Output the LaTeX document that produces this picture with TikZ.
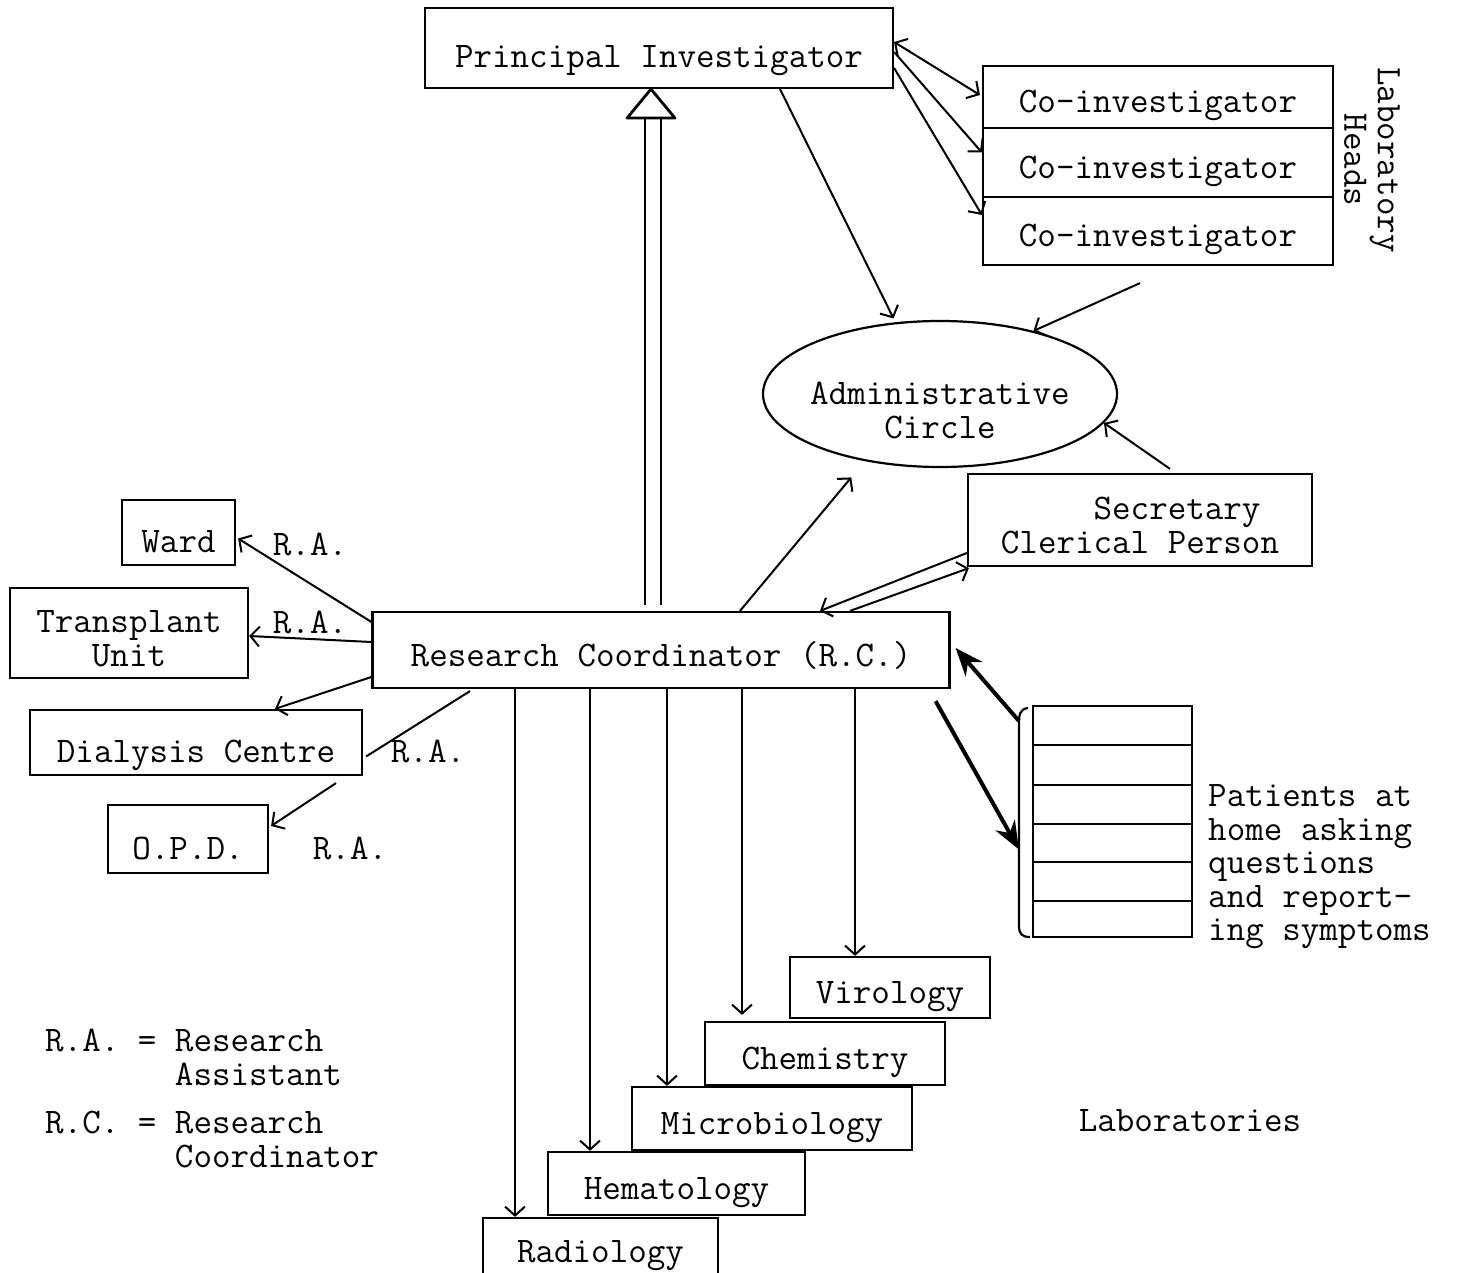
\documentclass[tikz,border=0pt]{standalone}
\usetikzlibrary{arrows.meta,shapes.geometric,calc}
\newcommand\tw{\ttfamily\fontsize{36}{33.5}\selectfont}
\newcommand\mlines[2]{\raisebox{-#1}[\height][\depth]{\begin{tabular}{@{}c@{}}#2\end{tabular}}}
\begin{document}
\begin{tikzpicture}[x=1pt,y=-1pt,
  bxbase/.style={draw, line width=2.2pt, inner sep=0pt, font=\tw},
  bx/.style={bxbase, text height=32pt, text depth=0pt},
  bxl/.style={bxbase, text height=40pt, text depth=0pt},
  lbl/.style={font=\tw, inner sep=0pt},
  ar/.style={line width=2pt, -{Straight Barb[length=9pt,width=20pt]}},
  thk/.style={line width=4pt, -{Stealth[length=28pt,width=22pt]}},
  ln/.style={line width=2pt}]
\useasboundingbox[fill=white] (0,0) rectangle (1460,1273);

% top
\node[bxl, minimum width=468pt, minimum height=80pt] (pi) at (659,48) {Principal Investigator};
\node[bx, minimum width=350pt, minimum height=62pt] (co1) at (1158,97) {Co-investigator};
\node[bx, minimum width=350pt, minimum height=69pt] (co2) at (1158,162.5) {Co-investigator};
\node[bx, minimum width=350pt, minimum height=68pt] (co3) at (1158,231) {Co-investigator};
\node[lbl, rotate=-90, align=center] (lh) at (1372,160) {Laboratory\\Heads};

\node[draw, ellipse, line width=2.2pt, minimum width=354pt, minimum height=146pt,
      inner sep=0pt, font=\tw] (adm) at (940,394)
  {\makebox[0pt]{\raisebox{-27pt}[0pt][0pt]{\begin{tabular}{@{}c@{}}Administrative\\Circle\end{tabular}}}};
\node[bxbase, minimum width=344pt, minimum height=92pt] (sec) at (1140,520)
  {\raisebox{-10pt}[\height][\depth]{\begin{tabular}{@{}l@{}}\hphantom{Cleri}Secretary\\Clerical Person\end{tabular}}};

\node[bx, minimum width=577pt, minimum height=76pt] (rc) at (661,650) {Research Coordinator (R.C.)};

% left units
\node[bxl, minimum width=113pt, minimum height=65pt] (ward) at (178.5,532.5) {Ward};
\node[bxbase, minimum width=238pt, minimum height=90pt] (tu) at (129,633) {\mlines{10pt}{Transplant\\Unit}};
\node[bxl, minimum width=332pt, minimum height=65pt] (dc) at (196,742.5) {Dialysis Centre};
\node[bxl, minimum width=160pt, minimum height=68pt] (opd) at (188,839) {O.P.D.};
\node[lbl] (ra1) at (310,544) {R.A.};
\node[lbl] (ra2) at (310,622) {R.A.};
\node[lbl] (ra3) at (428,751) {R.A.};
\node[lbl] (ra4) at (350,848) {R.A.};

% laboratories
\node[bx, minimum width=200pt, minimum height=61pt] (vir) at (890,987.5) {Virology};
\node[bx, minimum width=240pt, minimum height=63pt] (chem) at (825,1053.5) {Chemistry};
\node[bx, minimum width=280pt, minimum height=63pt] (micro) at (772,1118.5) {Microbiology};
\node[bx, minimum width=257pt, minimum height=63pt] (hema) at (676.5,1183.5) {Hematology};
\node[bx, minimum width=235pt, minimum height=56pt] (radio) at (600.5,1246) {Radiology};
\node[lbl] (labs) at (1190,1121) {Laboratories};

% patients
\node[draw, line width=2.2pt, minimum width=159pt, minimum height=231pt, inner sep=0pt] (pat) at (1112.5,821.5) {};
\foreach \yy in {745,785,824,862,901} \draw[line width=2pt] (1033,\yy) -- (1192,\yy);
\draw[line width=2.2pt] (1028,708) .. controls (1020,709) and (1019,714) .. (1019,724)
  -- (1019,926) .. controls (1019,934) and (1022,937) .. (1030,937);
\node[lbl, align=left, anchor=west] (ptxt) at (1208,867)
  {Patients at\\home asking\\questions\\and report-\\ing symptoms};

% legend
\node[lbl, align=left, anchor=north west] (leg1) at (45,1029) {R.A. = Research\\\hphantom{R.A. = }Assistant};
\node[lbl, align=left, anchor=north west] (leg2) at (45,1111) {R.C. = Research\\\hphantom{R.C. = }Coordinator};

% connectors: PI
\draw[ln, {Straight Barb[length=9pt,width=20pt]}-{Straight Barb[length=9pt,width=20pt]}]
  ($(pi.east)+(0,-6)$) -- ($(co1.west)+(-2,-2)$);
\draw[ar] ($(pi.east)+(0,4)$) -- ($(co2.west)+(0,-10)$);
\draw[ar] ($(pi.east)+(0,20)$) -- ($(co3.west)+(0,-16)$);
\draw[ar] ($(pi.south)+(121,0)$) -- ($(adm.123)+(0,-4)$);
\draw[ar] ($(co3.south)+(-18,17)$) -- (adm.34);
\draw[ar] ($(sec.north)+(30,-4)$) -- (adm.-10);
\draw[ar] ($(rc.north)+(79,0)$) -- ($(adm.-142)+(-5,18)$);
\draw[ar] ($(sec.west)+(0,33)$) -- ($(rc.north)+(159,0)$);
\draw[ar] ($(rc.north)+(189,0)$) -- ($(sec.south west)+(2,1)$);

% RC to PI (double line with open head)
\coordinate (tip) at ($(pi.south)+(-8,0)$);
\draw[line width=2.2pt] ($(rc.north)+(-16,-6)$) -- ($(tip)+(-6,29)$);
\draw[line width=2.2pt] ($(rc.north)+(0,-6)$) -- ($(tip)+(10,29)$);
\draw[line width=2.8pt, line join=round] ($(tip)+(-24,29)$) -- (tip) -- ($(tip)+(24,29)$) -- cycle;

% RC to left units
\draw[ar] ($(rc.west)+(0,-28)$) -- ($(ward.east)+(2,6)$);
\draw[ar] ($(rc.west)+(0,-8)$) -- ($(tu.east)+(0,3)$);
\draw[ar] ($(rc.west)+(0,27)$) -- ($(dc.north)+(79,0)$);
\draw[ln] ($(rc.south)+(-191,2)$) -- ($(dc.east)+(3,14)$);
\draw[ar] ($(dc.south)+(140,7)$) -- ($(opd.east)+(2,-13)$);

% RC to laboratories
\coordinate (v1) at ($(rc.south)+(-146,0)$);
\coordinate (v2) at ($(rc.south)+(-71,0)$);
\coordinate (v3) at ($(rc.south)+(6,0)$);
\coordinate (v4) at ($(rc.south)+(81,0)$);
\coordinate (v5) at ($(rc.south)+(194,0)$);
\draw[ar] (v1) -- (v1 |- radio.north);
\draw[ar] (v2) -- (v2 |- hema.north);
\draw[ar] (v3) -- (v3 |- micro.north);
\draw[ar] (v4) -- ($(v4 |- chem.north)+(0,-6)$);
\draw[ar] (v5) -- (v5 |- vir.north);

% RC and patients
\draw[thk] ($(pat.north west)+(-13,16)$) -- ($(rc.east)+(5,-2)$);
\draw[thk] ($(rc.south east)+(-15,12)$) -- ($(pat.west)+(-13,28)$);
\end{tikzpicture}
\end{document}
